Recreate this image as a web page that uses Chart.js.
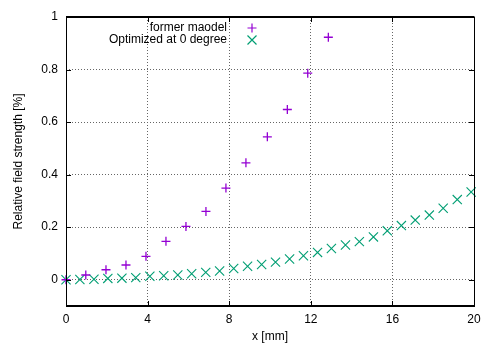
<!DOCTYPE html>
<html><head><meta charset="utf-8">
<script src="https://cdn.jsdelivr.net/npm/chart.js@4/dist/chart.umd.min.js"></script>
<style>html,body{margin:0;padding:0;background:#fff}#wrap{width:483px;height:344px}</style>
</head><body><div id="wrap"><canvas id="c" width="483" height="344"></canvas></div>
<script>
const seriesLabels = ['former maodel', 'Optimized at 0 degree'];
const formerX = [0, 0.97, 1.96, 2.94, 3.92, 4.9, 5.88, 6.86, 7.84, 8.82, 9.87, 10.85, 11.85, 12.86];
const formerY = [0, 0.018, 0.038, 0.056, 0.089, 0.146, 0.203, 0.26, 0.349, 0.445, 0.544, 0.648, 0.786, 0.923];
const optX = [0, 0.68, 1.37, 2.05, 2.74, 3.42, 4.11, 4.79, 5.48, 6.16, 6.85, 7.53, 8.22, 8.9, 9.59,
  10.27, 10.96, 11.64, 12.33, 13.01, 13.7, 14.38, 15.07, 15.75, 16.44, 17.12, 17.81, 18.49, 19.18, 19.86];
const optY = [0, 0.001, 0.002, 0.005, 0.006, 0.008, 0.013, 0.015, 0.018, 0.023, 0.028, 0.033, 0.043, 0.051, 0.058,
  0.067, 0.079, 0.091, 0.104, 0.119, 0.132, 0.145, 0.163, 0.186, 0.206, 0.227, 0.246, 0.272, 0.305, 0.334];
const xTicks = [0, 4, 8, 12, 16, 20];
const yTicks = [0, 0.2, 0.4, 0.6, 0.8, 1];
const xTitle = 'x [mm]';
const yTitle = 'Relative field strength [%]';

const FONT = {family: '"Liberation Sans", Arial, sans-serif', size: 12};
const toPts = (xs, ys) => xs.map((x, i) => ({x: x, y: ys[i]}));

const frame = {
  id: 'frame',
  afterDatasetsDraw(chart) {
    const ctx = chart.ctx, a = chart.chartArea;
    const xs = chart.scales.x, ys = chart.scales.y;
    ctx.save();
    ctx.strokeStyle = '#000';
    ctx.lineWidth = 1;
    ctx.beginPath();
    xTicks.forEach(v => {
      const p = Math.round(xs.getPixelForValue(v)) + 0.5;
      ctx.moveTo(p, a.bottom); ctx.lineTo(p, a.bottom - 5);
      ctx.moveTo(p, a.top); ctx.lineTo(p, a.top + 5);
    });
    yTicks.forEach(v => {
      const p = Math.round(ys.getPixelForValue(v)) + 0.5;
      ctx.moveTo(a.left, p); ctx.lineTo(a.left + 5, p);
      ctx.moveTo(a.right, p); ctx.lineTo(a.right - 5, p);
    });
    ctx.stroke();
    ctx.lineWidth = 1;
    ctx.strokeRect(Math.round(a.left) + 0.5, Math.round(a.top) + 0.5, Math.round(a.right - a.left), Math.round(a.bottom - a.top));
    ctx.lineWidth = 2;
    ctx.beginPath();
    ctx.moveTo(a.left, Math.round(a.bottom)); ctx.lineTo(a.right + 0.5, Math.round(a.bottom));
    ctx.moveTo(a.left, Math.round(a.top)); ctx.lineTo(a.right + 0.5, Math.round(a.top));
    ctx.stroke();
    // legend
    ctx.font = FONT.size + 'px ' + FONT.family;
    ctx.textAlign = 'right';
    ctx.textBaseline = 'middle';
    ctx.fillStyle = '#000';
    chart.data.datasets.forEach((ds, i) => {
      const y = a.top + 11 + i * 12;
      ctx.fillText(ds.label, a.left + 161, y);
      const cx = a.left + 186, r = 4.5;
      ctx.strokeStyle = ds.borderColor;
      ctx.lineWidth = 1.2;
      ctx.beginPath();
      if (ds.pointStyle === 'cross') {
        ctx.moveTo(cx - r, y); ctx.lineTo(cx + r, y);
        ctx.moveTo(cx, y - r); ctx.lineTo(cx, y + r);
      } else {
        ctx.moveTo(cx - r, y - r); ctx.lineTo(cx + r, y + r);
        ctx.moveTo(cx - r, y + r); ctx.lineTo(cx + r, y - r);
      }
      ctx.stroke();
    });
    ctx.restore();
  }
};

new Chart(document.getElementById('c'), {
  type: 'scatter',
  data: {
    datasets: [
      {label: seriesLabels[0], data: toPts(formerX, formerY), pointStyle: 'cross', pointRadius: 4.5,
       borderColor: '#9400d3', backgroundColor: '#9400d3', pointBorderWidth: 1.3, showLine: false, clip: false},
      {label: seriesLabels[1], data: toPts(optX, optY), pointStyle: 'crossRot', pointRadius: 6.5,
       borderColor: '#009e73', backgroundColor: '#009e73', pointBorderWidth: 1.1, showLine: false, clip: false}
    ]
  },
  options: {
    responsive: false, animation: false, devicePixelRatio: 1,
    layout: {padding: {left: 0, right: 9, top: 17, bottom: 0}},
    plugins: {legend: {display: false}, tooltip: {enabled: false}},
    scales: {
      x: {
        type: 'linear', min: 0, max: 20,
        afterBuildTicks: s => { s.ticks = xTicks.map(v => ({value: v})); },
        afterFit: s => { s.height = 38; s.paddingRight = 0; s.paddingLeft = 0; },
        grid: {color: '#666', lineWidth: 1, drawTicks: false},
        border: {display: false, dash: [1, 2]},
        ticks: {color: '#000', font: FONT, padding: 6, maxRotation: 0, callback: v => String(v)},
        title: {display: true, text: xTitle, color: '#000', font: FONT, padding: {top: 0, bottom: 0}}
      },
      y: {
        type: 'linear', min: -0.1, max: 1,
        afterBuildTicks: s => { s.ticks = yTicks.map(v => ({value: v})); },
        afterFit: s => { s.width = 66; s.paddingTop = 0; s.paddingBottom = 0; },
        grid: {color: '#666', lineWidth: 1, drawTicks: false},
        border: {display: false, dash: [1, 2]},
        ticks: {color: '#000', font: FONT, padding: 8, callback: v => String(v)},
        title: {display: true, text: yTitle, color: '#000', font: FONT, padding: {top: 11, bottom: 0}}
      }
    }
  },
  plugins: [frame]
});
</script>
</body></html>
